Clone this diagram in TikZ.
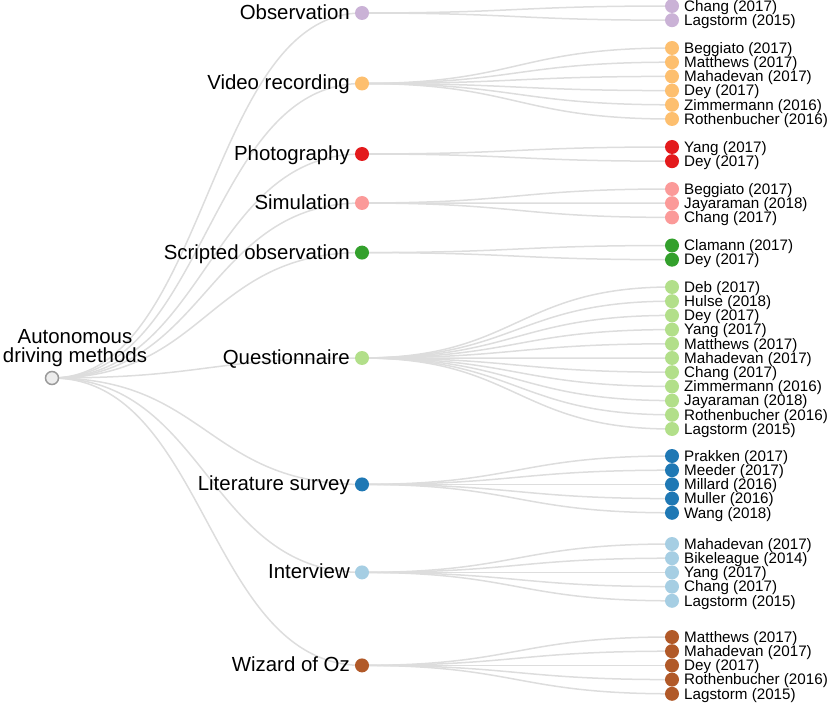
\documentclass[tikz,border=0pt]{standalone}
\usepackage{fontspec}
\setmainfont{Liberation Sans}
\usetikzlibrary{calc,backgrounds}

\definecolor{linkgrey}{HTML}{DDDDDD}
\definecolor{cobs}{HTML}{CAB2D6}
\definecolor{cvideo}{HTML}{FDBF6F}
\definecolor{cphoto}{HTML}{E31A1C}
\definecolor{csim}{HTML}{FB9A99}
\definecolor{cscript}{HTML}{33A02C}
\definecolor{cquest}{HTML}{B2DF8A}
\definecolor{clit}{HTML}{1F78B4}
\definecolor{cinter}{HTML}{A6CEE3}
\definecolor{cwoz}{HTML}{B15928}

\tikzset{
  link/.style={draw=linkgrey, line width=1.5pt},
  hubdot/.style={circle, inner sep=0pt, minimum size=14pt},
  rootdot/.style={circle, inner sep=0pt, minimum size=13pt, fill=black!7, draw=black!40, line width=1.5pt},
  hublab/.style={anchor=base east, inner sep=0pt, font=\fontsize{20.4}{24}\selectfont},
  leaflab/.style={anchor=base west, inner sep=0pt, font=\fontsize{15.2}{18}\selectfont},
  rootlab/.style={anchor=south, inner sep=0pt, align=center, font=\fontsize{20.4}{19.5}\selectfont}
}

% curved link between two nodes, behind the dots
\newcommand\linkto[2]{%
  \begin{pgfonlayer}{background}
  \draw[link] let \p1=(#1.center), \p2=(#2.center) in
    (\p1) .. controls ({0.5*\x1+0.5*\x2},\y1) and ({0.5*\x1+0.5*\x2},\y2) .. (\p2);
  \end{pgfonlayer}}

% one method with its papers: id, colour, label, y of method, y of first paper, papers
\newcommand\branch[6]{%
  \node[hubdot, fill=#2] (#1) at (362,#4) {};
  \node[hublab] (#1-lab) at ([xshift=-12pt,yshift=-6.5pt]#1.center) {#3};
  \linkto{root}{#1}
  \foreach \t [count=\i] in {#6} {
    \node[hubdot, fill=#2] (#1-\i) at (672,{#5+(\i-1)*14.2}) {};
    \node[leaflab] (#1-\i-lab) at ([xshift=12pt,yshift=-5.3pt]#1-\i.center) {\t};
    \linkto{#1}{#1-\i}
  }}

\begin{document}
\begin{tikzpicture}[x=1pt, y=-1pt]
  \useasboundingbox (0,0) rectangle (830,703);

  \node[rootdot] (root) at (52,378) {};
  \node[rootlab] (root-lab) at (75,367) {Autonomous\\driving methods};

  \branch{obs}{cobs}{Observation}{13}{6}{Chang (2017), Lagstorm (2015)}
  \branch{video}{cvideo}{Video recording}{83.5}{48}{Beggiato (2017), Matthews (2017), Mahadevan (2017), Dey (2017), Zimmermann (2016), Rothenbucher (2016)}
  \branch{photo}{cphoto}{Photography}{154}{147}{Yang (2017), Dey (2017)}
  \branch{sim}{csim}{Simulation}{203}{189}{Beggiato (2017), Jayaraman (2018), Chang (2017)}
  \branch{script}{cscript}{Scripted observation}{252.6}{245.5}{Clamann (2017), Dey (2017)}
  \branch{quest}{cquest}{Questionnaire}{358}{287}{Deb (2017), Hulse (2018), Dey (2017), Yang (2017), Matthews (2017), Mahadevan (2017), Chang (2017), Zimmermann (2016), Jayaraman (2018), Rothenbucher (2016), Lagstorm (2015)}
  \branch{lit}{clit}{Literature survey}{484.4}{456}{Prakken (2017), Meeder (2017), Millard (2016), Muller (2016), Wang (2018)}
  \branch{inter}{cinter}{Interview}{572.4}{544}{Mahadevan (2017), Bikeleague (2014), Yang (2017), Chang (2017), Lagstorm (2015)}
  \branch{woz}{cwoz}{Wizard of Oz}{665.4}{637}{Matthews (2017), Mahadevan (2017), Dey (2017), Rothenbucher (2016), Lagstorm (2015)}
\end{tikzpicture}
\end{document}
